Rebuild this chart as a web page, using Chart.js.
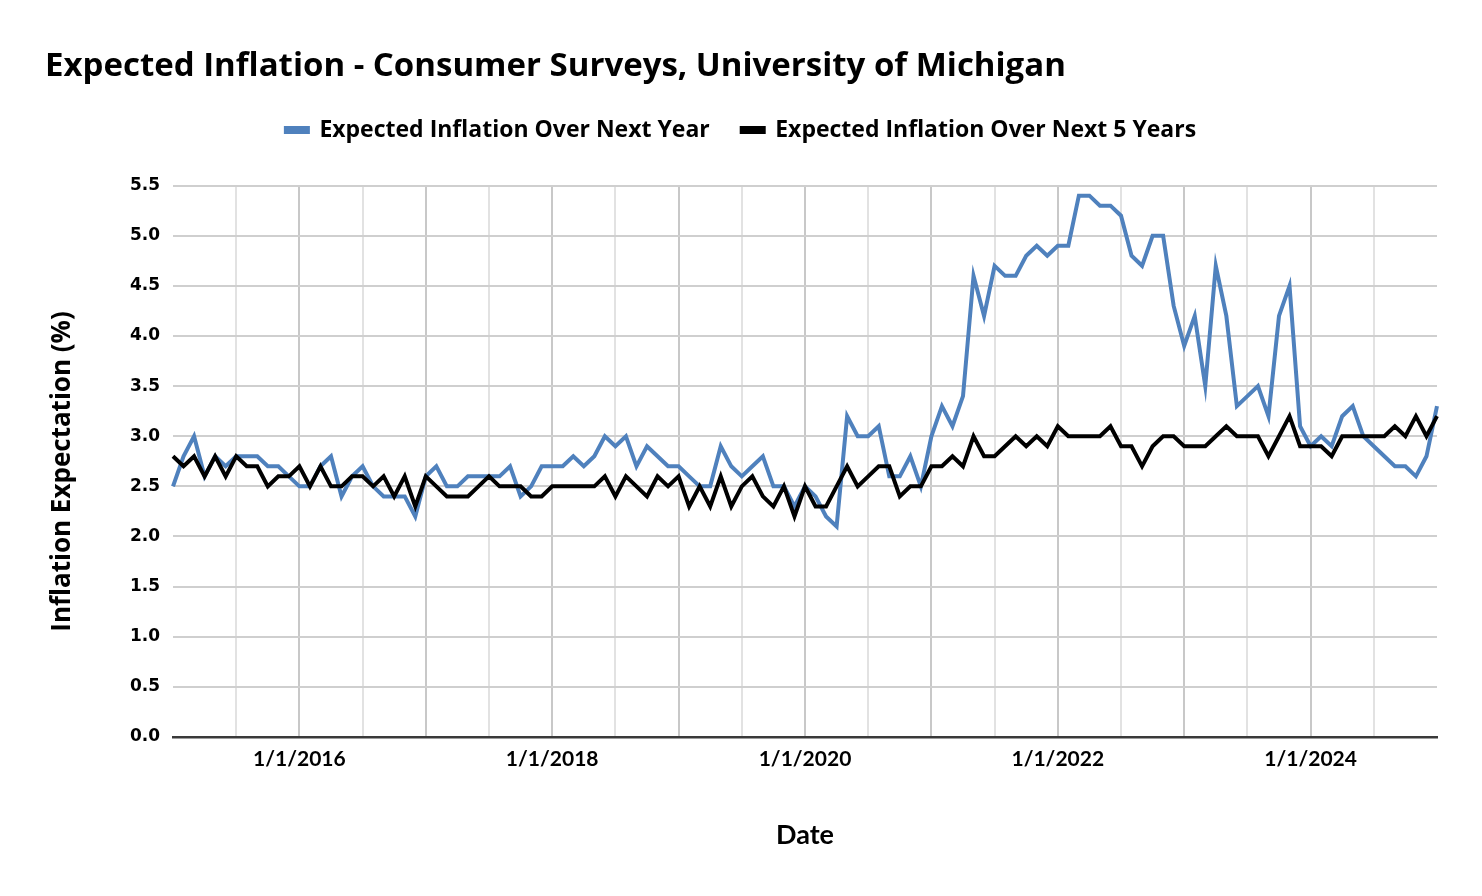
<!DOCTYPE html>
<html>
<head>
<meta charset="utf-8">
<script src="https://cdn.jsdelivr.net/npm/chart.js@4"></script>
<style>
  html, body { margin:0; padding:0; background:#fff; }
  #wrap { width:1482px; height:896px; }
</style>
</head>
<body>
<div id="wrap"><canvas id="chart" width="1482" height="896"></canvas></div>
<script>
// monthly, Jan 2015 .. Jan 2025
const years = [2015,2016,2017,2018,2019,2020,2021,2022,2023,2024,2025];
const tickLabels = ["1/1/2016","1/1/2018","1/1/2020","1/1/2022","1/1/2024"];

const nextYear = [
  2.5,2.8,3.0,2.6,2.8,2.7,2.8,2.8,2.8,2.7,2.7,2.6,
  2.5,2.5,2.7,2.8,2.4,2.6,2.7,2.5,2.4,2.4,2.4,2.2,
  2.6,2.7,2.5,2.5,2.6,2.6,2.6,2.6,2.7,2.4,2.5,2.7,
  2.7,2.7,2.8,2.7,2.8,3.0,2.9,3.0,2.7,2.9,2.8,2.7,
  2.7,2.6,2.5,2.5,2.9,2.7,2.6,2.7,2.8,2.5,2.5,2.3,
  2.5,2.4,2.2,2.1,3.2,3.0,3.0,3.1,2.6,2.6,2.8,2.5,
  3.0,3.3,3.1,3.4,4.6,4.2,4.7,4.6,4.6,4.8,4.9,4.8,
  4.9,4.9,5.4,5.4,5.3,5.3,5.2,4.8,4.7,5.0,5.0,4.3,
  3.9,4.2,3.5,4.7,4.2,3.3,3.4,3.5,3.2,4.2,4.5,3.1,
  2.9,3.0,2.9,3.2,3.3,3.0,2.9,2.8,2.7,2.7,2.6,2.8,
  3.3
];

const next5Years = [
  2.8,2.7,2.8,2.6,2.8,2.6,2.8,2.7,2.7,2.5,2.6,2.6,
  2.7,2.5,2.7,2.5,2.5,2.6,2.6,2.5,2.6,2.4,2.6,2.3,
  2.6,2.5,2.4,2.4,2.4,2.5,2.6,2.5,2.5,2.5,2.4,2.4,
  2.5,2.5,2.5,2.5,2.5,2.6,2.4,2.6,2.5,2.4,2.6,2.5,
  2.6,2.3,2.5,2.3,2.6,2.3,2.5,2.6,2.4,2.3,2.5,2.2,
  2.5,2.3,2.3,2.5,2.7,2.5,2.6,2.7,2.7,2.4,2.5,2.5,
  2.7,2.7,2.8,2.7,3.0,2.8,2.8,2.9,3.0,2.9,3.0,2.9,
  3.1,3.0,3.0,3.0,3.0,3.1,2.9,2.9,2.7,2.9,3.0,3.0,
  2.9,2.9,2.9,3.0,3.1,3.0,3.0,3.0,2.8,3.0,3.2,2.9,
  2.9,2.9,2.8,3.0,3.0,3.0,3.0,3.0,3.1,3.0,3.2,3.0,
  3.2
];

const dates = [];
years.forEach(y => {
  for (let m = 1; m <= 12; m++) {
    if (dates.length < nextYear.length) dates.push(m + "/1/" + y);
  }
});

const lastIdx = dates.length - 1;

// extra room under the legend
const legendGap = {
  id: "legendGap",
  beforeInit(chart) {
    const fit = chart.legend.fit;
    chart.legend.fit = function() {
      fit.call(this);
      this.height += 34;
    };
  }
};

new Chart(document.getElementById("chart"), {
  type: "line",
  data: {
    labels: dates,
    datasets: [{
      label: "Expected Inflation Over Next Year",
      data: nextYear,
      borderColor: "#4f81bd",
      backgroundColor: "#4f81bd",
      borderWidth: 4,
      pointRadius: 0,
      tension: 0,
      order: 1
    }, {
      label: "Expected Inflation Over Next 5 Years",
      data: next5Years,
      borderColor: "#000000",
      backgroundColor: "#000000",
      borderWidth: 4,
      pointRadius: 0,
      tension: 0,
      order: 0
    }]
  },
  plugins: [legendGap],
  options: {
    responsive: false,
    animation: false,
    layout: { padding: { left: 45, right: 45, top: 0, bottom: 34 } },
    plugins: {
      title: {
        display: true,
        text: "Expected Inflation - Consumer Surveys, University of Michigan",
        align: "start",
        color: "#000",
        font: { family: "Open Sans", size: 33, weight: "bold" },
        padding: { top: 47, bottom: 0 }
      },
      legend: {
        position: "top",
        labels: {
          color: "#000",
          font: { family: "Open Sans", size: 23, weight: "bold" },
          boxWidth: 22,
          boxHeight: 4,
          padding: 32,
          sort: (a, b) => a.datasetIndex - b.datasetIndex
        }
      },
      tooltip: { enabled: false }
    },
    scales: {
      x: {
        type: "category",
        offset: false,
        border: { display: true, color: "#3a3a3a", width: 2.5 },
        grid: {
          drawTicks: false,
          lineWidth: 2,
          color: ctx => {
            const i = ctx.index;
            if (i === 0 || i === lastIdx) return "rgba(0,0,0,0)";
            if (i % 12 === 0) return "#c8c8c8";
            if (i % 6 === 0) return "#e2e2e2";
            return "rgba(0,0,0,0)";
          }
        },
        ticks: {
          autoSkip: false,
          maxRotation: 0,
          padding: 10,
          color: "#000",
          font: { family: "Lato", size: 21, weight: "bold" },
          callback: function(v, i) {
            const l = dates[i];
            return tickLabels.includes(l) ? l : "";
          }
        },
        title: {
          display: true,
          text: "Date",
          color: "#000",
          font: { family: "Lato", size: 27, weight: "bold" },
          padding: { top: 0, bottom: 11 }
        },
        afterFit: s => { s.height = 125; }
      },
      y: {
        min: 0,
        max: 5.5,
        border: { display: false },
        grid: { drawTicks: false, lineWidth: 2, color: "#cfcfcf" },
        ticks: {
          stepSize: 0.5,
          padding: 13,
          color: "#000",
          font: { family: "DejaVu Sans", size: 17, weight: "bold" },
          callback: v => v.toFixed(1)
        },
        title: {
          display: true,
          text: "Inflation Expectation (%)   ",
          color: "#000",
          font: { family: "Open Sans", size: 26, weight: "bold" },
          padding: { top: 2, bottom: 0 }
        },
        afterFit: s => { s.width = 128; }
      }
    }
  }
});
</script>
</body>
</html>
